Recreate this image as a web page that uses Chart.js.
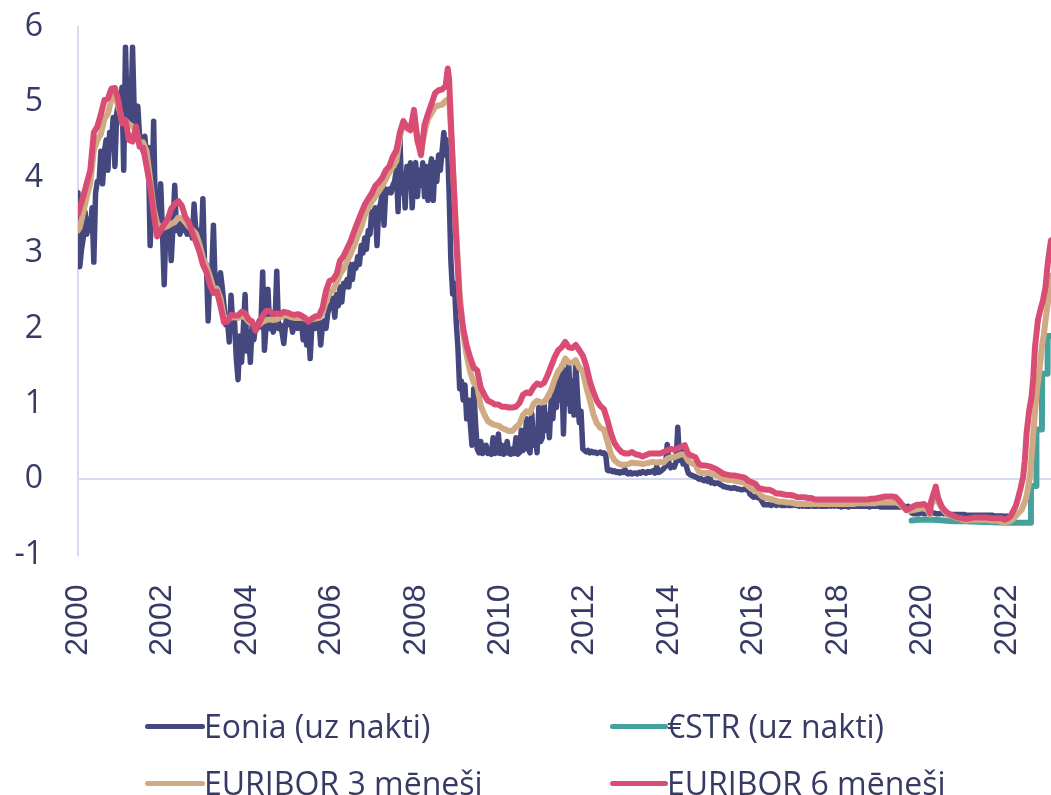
<!DOCTYPE html>
<html><head><meta charset="utf-8">
<script src="https://cdn.jsdelivr.net/npm/chart.js@4.4.1/dist/chart.umd.min.js"></script>
<style>
html,body{margin:0;padding:0;background:#fff;overflow:hidden;}
#wrap{position:relative;width:1051px;height:795px;}
#chart{position:absolute;left:0;top:0;}
.sw{position:absolute;height:5px;border-radius:3px;}
.tx{position:absolute;font-family:'Open Sans';font-size:32px;line-height:32px;color:#373a64;white-space:nowrap;}
</style>
</head><body>
<div id="wrap">
<canvas id="chart" width="1051" height="795"></canvas>
<div id="legend"></div>
</div>
<script>
// ---------- tick / category labels ----------
const seriesNames = ['Eonia (uz nakti)', '€STR (uz nakti)', 'EURIBOR 3 mēneši', 'EURIBOR 6 mēneši'];
const xStart = 2000, xEnd = 2023.05;

// ---------- Eonia: semi-monthly readings, 2000 .. 2021 (24 per year) + Jan 2022 ----------
const eoniaValues = [
 3.80,2.82,3.05,3.20,3.55,3.25,3.45,3.30,3.60,2.88,3.80,3.95,3.95,4.35,3.92,4.35,4.50,4.10,4.60,4.45,4.80,4.15,4.85,5.00,
 4.85,5.20,4.10,5.73,4.80,4.95,4.75,5.73,4.85,4.70,4.95,4.55,4.50,4.35,4.55,4.25,4.40,3.10,3.60,4.75,3.50,3.25,3.45,3.92,
 3.30,2.58,3.35,3.20,3.40,2.90,3.35,3.90,3.30,3.35,3.25,3.45,3.30,3.35,3.25,3.40,3.30,3.20,3.65,3.30,3.25,3.30,3.05,3.72,
 2.80,2.85,2.10,2.75,2.70,3.37,2.55,2.60,2.50,2.74,2.55,2.30,2.05,2.10,1.82,2.44,2.05,2.10,1.60,1.32,1.90,1.55,2.00,2.45,
 1.70,1.95,1.55,2.05,1.85,2.05,2.00,2.10,2.02,2.75,1.71,2.05,2.52,2.00,2.05,1.95,2.05,2.76,2.00,2.05,1.95,1.80,2.05,2.20,
 2.05,2.10,1.95,2.05,2.10,2.00,2.05,2.10,1.85,2.05,1.78,2.05,1.60,2.05,2.10,2.00,2.05,2.10,1.78,2.05,2.10,2.00,2.20,2.30,
 2.30,2.40,2.15,2.45,2.30,2.55,2.35,2.60,2.55,2.65,2.55,2.85,2.65,2.85,2.80,2.95,2.85,3.10,3.00,3.20,3.05,3.30,3.25,3.55,
 3.55,3.60,3.10,3.60,3.65,3.80,3.37,3.85,3.80,3.85,3.80,3.90,3.95,4.10,3.55,4.55,3.80,4.05,3.60,4.15,3.90,4.20,3.60,4.05,
 4.20,3.75,4.10,3.90,4.20,3.75,4.15,3.70,4.10,4.25,3.70,4.20,3.95,4.30,4.10,4.35,4.60,4.30,4.50,3.80,2.90,2.46,2.60,2.10,
 1.75,1.20,1.30,1.05,1.25,0.80,1.05,0.75,0.45,1.20,0.75,0.40,0.35,0.50,0.34,0.36,0.45,0.34,0.36,0.33,0.55,0.34,0.35,0.60,
 0.34,0.45,0.33,0.35,0.50,0.34,0.33,0.40,0.34,0.55,0.33,0.35,0.65,0.38,0.45,0.80,0.40,0.35,0.87,0.45,0.60,0.35,0.95,0.50,
 0.55,1.00,0.65,0.85,0.55,1.05,0.80,1.20,0.95,1.30,1.05,1.50,0.60,1.45,1.00,1.55,0.90,1.30,0.85,1.55,1.10,0.75,0.90,0.40,
 0.38,0.36,0.38,0.35,0.37,0.35,0.36,0.34,0.35,0.36,0.34,0.35,0.33,0.12,0.11,0.12,0.10,0.11,0.09,0.10,0.08,0.10,0.09,0.13,
 0.08,0.07,0.09,0.07,0.08,0.08,0.07,0.09,0.08,0.10,0.09,0.08,0.10,0.09,0.10,0.11,0.08,0.17,0.09,0.10,0.12,0.14,0.17,0.46,
 0.20,0.15,0.18,0.16,0.22,0.69,0.25,0.38,0.20,0.25,0.16,0.08,0.06,0.05,0.04,0.03,0.02,0.00,0.01,-0.01,-0.02,0.00,-0.03,0.05,
 -0.05,-0.04,-0.06,-0.05,-0.05,-0.07,-0.08,-0.10,-0.10,-0.11,-0.11,-0.12,-0.12,-0.11,-0.12,-0.13,-0.13,-0.14,-0.14,-0.13,-0.14,-0.13,-0.20,-0.22,
 -0.24,-0.23,-0.24,-0.25,-0.26,-0.30,-0.34,-0.34,-0.34,-0.34,-0.35,-0.34,-0.33,-0.35,-0.34,-0.34,-0.35,-0.35,-0.35,-0.34,-0.35,-0.35,-0.35,-0.33,
 -0.35,-0.35,-0.36,-0.35,-0.36,-0.35,-0.36,-0.36,-0.36,-0.35,-0.36,-0.36,-0.36,-0.35,-0.36,-0.36,-0.36,-0.36,-0.36,-0.35,-0.36,-0.35,-0.36,-0.34,
 -0.36,-0.36,-0.37,-0.36,-0.36,-0.36,-0.37,-0.36,-0.36,-0.36,-0.36,-0.36,-0.36,-0.36,-0.36,-0.36,-0.36,-0.36,-0.37,-0.36,-0.36,-0.36,-0.36,-0.35,
 -0.37,-0.37,-0.37,-0.37,-0.37,-0.37,-0.37,-0.37,-0.37,-0.37,-0.37,-0.37,-0.37,-0.37,-0.36,-0.37,-0.36,-0.40,-0.45,-0.46,-0.46,-0.46,-0.46,-0.45,
 -0.45,-0.46,-0.46,-0.45,-0.46,-0.45,-0.45,-0.45,-0.46,-0.46,-0.46,-0.45,-0.46,-0.46,-0.46,-0.46,-0.47,-0.47,-0.47,-0.47,-0.47,-0.47,-0.47,-0.47,
 -0.47,-0.48,-0.48,-0.48,-0.48,-0.48,-0.48,-0.48,-0.48,-0.48,-0.48,-0.48,-0.48,-0.48,-0.48,-0.48,-0.48,-0.49,-0.49,-0.49,-0.49,-0.49,-0.49,-0.50,
 -0.49
];

// ---------- €STR (step changes) ----------
const estrDates  = [2019.75,2019.92,2020.25,2020.5,2020.75,2021.0,2021.5,2022.0,2022.5,2022.57,2022.575,2022.70,2022.705,2022.835,2022.84,2022.965,2022.97,2023.05];
const estrValues = [-0.55,-0.54,-0.54,-0.55,-0.56,-0.56,-0.57,-0.58,-0.58,-0.58,-0.09,-0.09,0.66,0.66,1.40,1.40,1.90,1.90];

// ---------- EURIBOR 3M: monthly 2000-01 .. 2021-12 ----------
const euribor3mMonthly = [
 3.34,3.54,3.75,3.93,4.36,4.50,4.58,4.78,4.85,5.04,5.09,4.94,
 4.77,4.76,4.71,4.68,4.64,4.45,4.47,4.35,3.98,3.60,3.39,3.34,
 3.34,3.36,3.39,3.41,3.47,3.46,3.41,3.35,3.31,3.26,3.12,2.94,
 2.83,2.69,2.53,2.53,2.40,2.15,2.13,2.14,2.15,2.14,2.16,2.15,
 2.09,2.07,2.03,2.05,2.09,2.11,2.12,2.11,2.12,2.15,2.17,2.17,
 2.15,2.14,2.14,2.14,2.13,2.11,2.12,2.13,2.14,2.20,2.36,2.47,
 2.51,2.60,2.72,2.79,2.89,2.99,3.10,3.23,3.34,3.50,3.60,3.68,
 3.75,3.82,3.89,3.98,4.07,4.15,4.22,4.54,4.74,4.69,4.64,4.85,
 4.48,4.36,4.60,4.78,4.86,4.94,4.96,4.97,5.02,5.05,4.24,3.29,
 2.46,1.94,1.64,1.42,1.28,1.23,0.97,0.86,0.77,0.74,0.72,0.71,
 0.68,0.66,0.64,0.64,0.69,0.73,0.85,0.90,0.88,1.00,1.04,1.02,
 1.02,1.09,1.18,1.32,1.43,1.49,1.60,1.55,1.54,1.58,1.48,1.43,
 1.22,1.05,0.86,0.74,0.68,0.66,0.50,0.33,0.25,0.21,0.19,0.19,
 0.20,0.22,0.21,0.21,0.20,0.21,0.22,0.23,0.22,0.23,0.22,0.27,
 0.29,0.29,0.31,0.33,0.32,0.24,0.21,0.19,0.10,0.08,0.08,0.08,
 0.06,0.05,0.03,0.00,-0.01,-0.01,-0.02,-0.03,-0.04,-0.05,-0.09,-0.13,
 -0.15,-0.18,-0.23,-0.25,-0.26,-0.27,-0.29,-0.30,-0.30,-0.31,-0.31,-0.32,
 -0.33,-0.33,-0.33,-0.33,-0.33,-0.33,-0.33,-0.33,-0.33,-0.33,-0.33,-0.33,
 -0.33,-0.33,-0.33,-0.33,-0.33,-0.32,-0.32,-0.32,-0.32,-0.32,-0.32,-0.31,
 -0.31,-0.31,-0.31,-0.31,-0.31,-0.33,-0.37,-0.41,-0.42,-0.41,-0.40,-0.39,
 -0.39,-0.41,-0.35,-0.25,-0.30,-0.38,-0.44,-0.48,-0.49,-0.51,-0.52,-0.54,
 -0.55,-0.54,-0.54,-0.54,-0.54,-0.54,-0.54,-0.55,-0.55,-0.55,-0.57,-0.58
];
const euribor3mExtraDates  = [2020.18, 2020.32, 2022.00, 2022.07, 2022.15, 2022.25, 2022.35, 2022.43, 2022.47, 2022.51, 2022.55, 2022.59, 2022.63, 2022.68, 2022.72, 2022.78, 2022.83, 2022.88, 2022.93, 2022.98, 2023.02, 2023.05];
const euribor3mExtraValues = [-0.47, -0.20, -0.57, -0.56, -0.53, -0.47, -0.41, -0.30, -0.23, -0.10, 0.03, 0.30, 0.60, 0.95, 1.20, 1.45, 1.75, 1.92, 2.15, 2.35, 2.60, 2.70];

// ---------- EURIBOR 6M: monthly 2000-01 .. 2021-12 ----------
const euribor6mMonthly = [
 3.60,3.75,3.93,4.10,4.60,4.68,4.84,5.03,5.05,5.18,5.19,5.02,
 4.72,4.76,4.50,4.48,4.68,4.41,4.40,4.15,3.89,3.53,3.22,3.30,
 3.38,3.45,3.59,3.65,3.69,3.63,3.48,3.41,3.27,3.15,3.02,2.85,
 2.75,2.58,2.47,2.49,2.30,2.08,2.09,2.18,2.17,2.17,2.22,2.20,
 2.12,2.09,1.97,2.07,2.17,2.23,2.23,2.19,2.20,2.19,2.22,2.21,
 2.19,2.18,2.19,2.17,2.14,2.09,2.13,2.16,2.17,2.27,2.50,2.63,
 2.65,2.72,2.90,2.96,3.06,3.16,3.29,3.41,3.53,3.64,3.72,3.79,
 3.89,3.94,4.00,4.10,4.15,4.28,4.36,4.60,4.75,4.66,4.63,4.90,
 4.50,4.30,4.70,4.85,4.98,5.12,5.16,5.17,5.22,5.30,4.20,3.20,
 2.35,2.00,1.77,1.61,1.48,1.44,1.21,1.12,1.04,1.02,0.99,0.99,
 0.96,0.96,0.95,0.95,0.96,1.01,1.12,1.15,1.14,1.22,1.27,1.25,
 1.28,1.38,1.50,1.62,1.71,1.75,1.82,1.75,1.74,1.78,1.71,1.64,
 1.50,1.30,1.16,1.04,0.97,0.93,0.78,0.61,0.48,0.41,0.36,0.34,
 0.34,0.36,0.33,0.32,0.30,0.32,0.34,0.34,0.34,0.34,0.36,0.38,
 0.40,0.39,0.41,0.43,0.45,0.33,0.31,0.29,0.20,0.18,0.18,0.17,
 0.15,0.13,0.10,0.07,0.06,0.05,0.05,0.04,0.03,0.02,-0.02,-0.04,
 -0.06,-0.12,-0.13,-0.14,-0.14,-0.16,-0.19,-0.19,-0.20,-0.21,-0.21,-0.22,
 -0.24,-0.24,-0.24,-0.25,-0.25,-0.27,-0.27,-0.27,-0.27,-0.27,-0.27,-0.27,
 -0.27,-0.27,-0.27,-0.27,-0.27,-0.27,-0.27,-0.27,-0.27,-0.26,-0.26,-0.25,
 -0.24,-0.23,-0.23,-0.23,-0.24,-0.29,-0.35,-0.41,-0.39,-0.36,-0.34,-0.34,
 -0.33,-0.36,-0.30,-0.15,-0.25,-0.36,-0.42,-0.46,-0.48,-0.50,-0.51,-0.52,
 -0.53,-0.52,-0.51,-0.51,-0.51,-0.51,-0.51,-0.52,-0.52,-0.52,-0.52,-0.54
];
const euribor6mExtraDates  = [2008.76, 2020.18, 2020.32, 2022.00, 2022.08, 2022.15, 2022.22, 2022.27, 2022.33, 2022.39, 2022.43, 2022.47, 2022.53, 2022.59, 2022.63, 2022.67, 2022.74, 2022.80, 2022.86, 2022.92, 2022.98, 2023.05];
const euribor6mExtraValues = [5.45, -0.45, -0.10, -0.53, -0.50, -0.43, -0.35, -0.25, -0.12, 0.03, 0.25, 0.60, 0.90, 1.09, 1.35, 1.75, 2.11, 2.25, 2.37, 2.55, 2.90, 3.17];

// ---------- helpers to build point lists ----------
function fromStep(vals, start, perYear, offset) {
  return vals.map((v, i) => ({ x: start + (i + offset) / perYear, y: v }));
}
function fromPairs(dates, vals) {
  return dates.map((d, i) => ({ x: d, y: vals[i] }));
}
function merged(a, b) {
  return a.concat(b).sort((p, q) => p.x - q.x);
}

const eoniaPts = fromStep(eoniaValues, 2000, 24, 0);
const estrPts = fromPairs(estrDates, estrValues);
const e3Pts = merged([{x: 2000, y: 3.30}].concat(fromStep(euribor3mMonthly, 2000, 12, 0.5)), fromPairs(euribor3mExtraDates, euribor3mExtraValues));
const e6Pts = merged([{x: 2000, y: 3.52}].concat(fromStep(euribor6mMonthly, 2000, 12, 0.5)), fromPairs(euribor6mExtraDates, euribor6mExtraValues));

const colors = ['#45487f', '#46a19d', '#cfaa83', '#d94d74'];
const textColor = '#373a64';
const gridColor = '#d7daee';

new Chart(document.getElementById('chart'), {
  type: 'line',
  data: {
    datasets: [
      { label: seriesNames[0], data: eoniaPts, borderColor: colors[0], backgroundColor: colors[0], borderWidth: 5.5, order: 4 },
      { label: seriesNames[1], data: estrPts, borderColor: colors[1], backgroundColor: colors[1], borderWidth: 6, order: 3 },
      { label: seriesNames[2], data: e3Pts, borderColor: colors[2], backgroundColor: colors[2], borderWidth: 6, order: 2 },
      { label: seriesNames[3], data: e6Pts, borderColor: colors[3], backgroundColor: colors[3], borderWidth: 6, order: 1 }
    ]
  },
  options: {
    animation: false,
    responsive: false,
    devicePixelRatio: 1,
    layout: { padding: { top: 27, left: 0, right: 0, bottom: 0 } },
    plugins: { legend: { display: false }, tooltip: { enabled: false } },
    elements: { point: { radius: 0 }, line: { tension: 0, borderJoinStyle: 'round', borderCapStyle: 'round' } },
    scales: {
      x: {
        type: 'linear', min: xStart, max: xEnd,
        afterFit(s) { s.height = 240.5; s.paddingLeft = 0; s.paddingRight = 0; },
        grid: { display: false },
        border: { display: false },
        ticks: {
          stepSize: 2, includeBounds: false, autoSkip: false,
          minRotation: 90, maxRotation: 90, padding: 22,
          color: textColor, font: { family: 'Liberation Sans', size: 32 },
          callback: v => String(v)
        }
      },
      y: {
        min: -1, max: 6,
        afterFit(s) { s.width = 78; s.paddingTop = 0; s.paddingBottom = 0; },
        grid: {
          drawTicks: false, lineWidth: 2,
          color: c => (c.tick && c.tick.value === 0) ? gridColor : 'rgba(0,0,0,0)'
        },
        border: { display: true, color: gridColor, width: 2 },
        ticks: {
          stepSize: 1, padding: 35, color: textColor,
          font: { family: 'Open Sans', size: 32 },
          callback: v => String(v)
        }
      }
    }
  }
});

// ---------- HTML legend (2 x 2 grid) ----------
const legendPos = [
  { sw: [145, 60], tx: 204, cy: 726 },
  { sw: [610, 58], tx: 667, cy: 726 },
  { sw: [145, 60], tx: 204, cy: 783 },
  { sw: [610, 58], tx: 667, cy: 783 }
];
const lg = document.getElementById('legend');
seriesNames.forEach((name, i) => {
  const p = legendPos[i];
  const sw = document.createElement('div');
  sw.className = 'sw';
  sw.style.left = p.sw[0] + 'px';
  sw.style.width = p.sw[1] + 'px';
  sw.style.top = (p.cy - 2.5) + 'px';
  sw.style.background = colors[i];
  lg.appendChild(sw);
  const tx = document.createElement('div');
  tx.className = 'tx';
  tx.style.left = p.tx + 'px';
  tx.style.top = (p.cy + 12 - 28.4) + 'px';
  tx.textContent = name;
  lg.appendChild(tx);
});
</script>
</body></html>
